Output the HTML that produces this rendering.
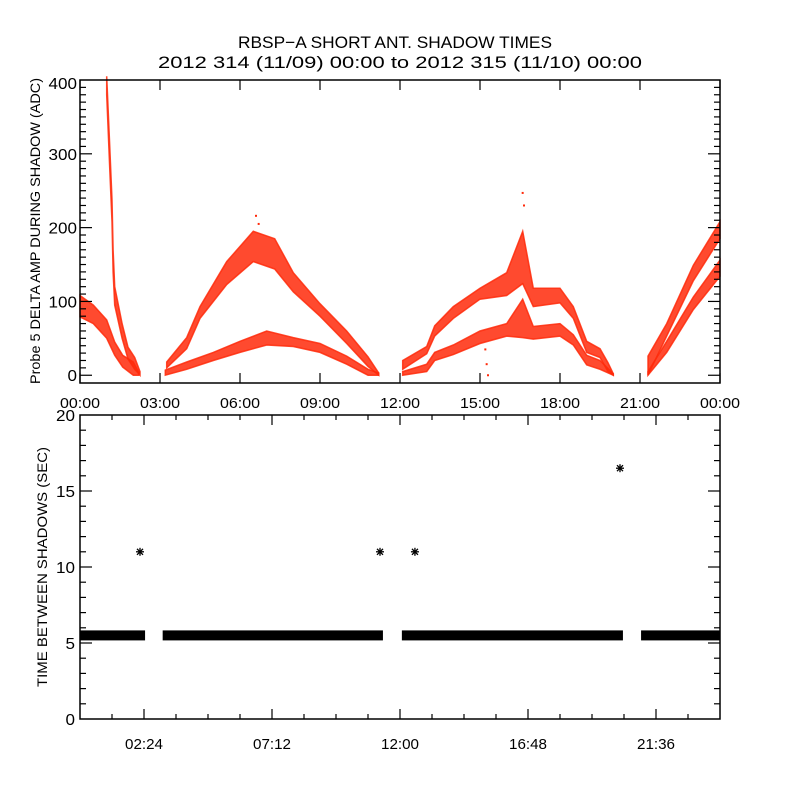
<!DOCTYPE html>
<html><head><meta charset="utf-8"><style>
html,body{margin:0;padding:0;background:#fff;}
svg{display:block;font-family:"Liberation Sans",sans-serif;}
</style></head><body>
<svg id="c" width="800" height="800" viewBox="0 0 800 800">
<text x="395" y="48" text-anchor="middle" font-size="17" textLength="314" lengthAdjust="spacingAndGlyphs">RBSP−A SHORT ANT. SHADOW TIMES</text>
<text x="400" y="68" text-anchor="middle" font-size="17" textLength="484" lengthAdjust="spacingAndGlyphs">2012 314 (11/09) 00:00 to 2012 315 (11/10) 00:00</text>
<text transform="translate(40,231) rotate(-90)" text-anchor="middle" font-size="14" textLength="306" lengthAdjust="spacingAndGlyphs">Probe 5 DELTA AMP DURING SHADOW (ADC)</text>
<text transform="translate(47,567) rotate(-90)" text-anchor="middle" font-size="14" textLength="240" lengthAdjust="spacingAndGlyphs">TIME BETWEEN SHADOWS (SEC)</text>
<g id="topPanel"></g>
<g id="botPanel"></g>
</svg>
<script>
// ---- top panel data (hours, ADC) ----
const band1T=[0,0.5,1.0,1.3,1.6,2.0,2.2];
const band1Lo=[79,70,50,27,11,0,0];
const band1Hi=[108,95,75,45,27,18,4];
const spikeT=[1.0,1.12,1.2,1.24,1.3,1.58,1.8,2.05,2.25];
const spikeLo=[380,275,208,140,95,50,22,8,0];
const spikeHi=[405,305,238,170,120,70,38,24,5];
const band2T=[3.25,4.0,4.5,5.5,6.5,7.3,8.0,9.0,10.0,10.8,11.2];
const band2Lo=[10,36,77,123,154,144,113,80,43,12,0];
const band2Hi=[18,51,93,154,195,185,139,97,60,25,3];
const band3T=[3.2,4.0,5.0,6.0,7.0,8.0,9.0,10.0,10.8,11.2];
const band3Lo=[0,8,20,31,41,39,31,15,0,0];
const band3Hi=[7,18,31,46,60,51,43,26,8,3];
const band4T=[12.1,13.0,13.3,14,15,16,16.6,17,18,18.5,19,19.5,19.8,20];
const band4Lo=[8,29,53,77,103,108,124,93,98,77,31,24,5,0];
const band4Hi=[20,39,67,93,118,139,195,118,118,93,46,36,17,2];
const band5T=[12.1,13.0,13.3,14,15,16,16.6,17,18,18.5,19,19.5,20];
const band5Lo=[0,5,20,28,43,53,51,49,53,41,14,8,0];
const band5Hi=[5,15,31,41,60,70,103,66,70,55,27,20,2];
const band6T=[21.3,22,23,24];
const band6Lo=[0,53,128,185];
const band6Hi=[26,70,149,208];
const band7T=[21.3,22,23,24];
const band7Lo=[0,31,89,134];
const band7Hi=[5,46,106,156];
const extraT=[6.6,6.7,16.6,16.65,15.2,15.25,15.3];
const extraV=[216,205,247,230,35,15,0];
const topXTicks=["00:00","03:00","06:00","09:00","12:00","15:00","18:00","21:00","00:00"];
const topYTicks=[0,100,200,300,400];
// ---- bottom panel data ----
const segStart=[0,3.1,12.07,21.04];
const segEnd=[2.44,11.36,20.36,24];
const segValue=[5.5,5.5,5.5,5.5];
const outT=[2.25,11.25,12.56,20.25];
const outV=[11,11,11,16.5];
const botXTicks=["02:24","07:12","12:00","16:48","21:36"];
const botXTickT=[2.4,7.2,12,16.8,21.6];
const botYTicks=[0,5,10,15,20];

const NS="http://www.w3.org/2000/svg";
const L=80,R=720,T1=80,B1=383,T2=415,B2=719;
const yMin1=-10.5,yMax1=400;
const x=t=>L+t/24*(R-L);
const y1=v=>B1-(v-yMin1)/(yMax1-yMin1)*(B1-T1);
const y2=v=>B2-v/20*(B2-T2);
function mk(tag,attrs,parent){const e=document.createElementNS(NS,tag);for(const k in attrs)e.setAttribute(k,attrs[k]);parent.appendChild(e);return e;}
const topG=document.getElementById('topPanel'),botG=document.getElementById('botPanel');

function band(ts,lo,hi,name){
  let pts=[];
  for(let i=0;i<ts.length;i++)pts.push(x(ts[i]).toFixed(1)+","+y1(hi[i]).toFixed(1));
  for(let i=ts.length-1;i>=0;i--)pts.push(x(ts[i]).toFixed(1)+","+y1(lo[i]).toFixed(1));
  const p=mk('polygon',{points:pts.join(' '),fill:'#ff2a0a','fill-opacity':'0.85',stroke:'#ff2a0a','stroke-width':1.5,'stroke-opacity':'0.85'},topG);
  
  
}
band(band1T,band1Lo,band1Hi,'band-early-descent');
band(spikeT,spikeLo,spikeHi,'band-early-spike');
band(band2T,band2Lo,band2Hi,'band-orbit2-upper');
band(band3T,band3Lo,band3Hi,'band-orbit2-lower');
band(band4T,band4Lo,band4Hi,'band-orbit3-upper');
band(band5T,band5Lo,band5Hi,'band-orbit3-lower');
band(band6T,band6Lo,band6Hi,'band-orbit4-upper');
band(band7T,band7Lo,band7Hi,'band-orbit4-lower');
for(let i=0;i<extraT.length;i++){
  const r=mk('rect',{x:x(extraT[i])-1,y:y1(extraV[i])-1,width:2,height:2,fill:'#ff2a0a'},topG);
  
  
}
const f1=mk('rect',{x:L,y:T1,width:R-L,height:B1-T1,fill:'none',stroke:'#000','stroke-width':1.5},topG);


for(let i=0;i<topXTicks.length;i++){
  const xx=x(i*3);
  mk('line',{x1:xx,y1:B1,x2:xx,y2:B1-10,stroke:'#000','stroke-width':1.2},topG);
  mk('line',{x1:xx,y1:T1,x2:xx,y2:T1+10,stroke:'#000','stroke-width':1.2},topG);
  const tx=mk('text',{x:xx,y:B1+25,'text-anchor':'middle','font-size':15,textLength:40,lengthAdjust:'spacingAndGlyphs'},topG);
  tx.textContent=topXTicks[i];
  
  
}
for(let v=0;v<=390;v+=10){
  const yy=y1(v),len=(v%100===0)?12:6;
  mk('line',{x1:L,y1:yy,x2:L+len,y2:yy,stroke:'#000','stroke-width':1.2},topG);
  mk('line',{x1:R,y1:yy,x2:R-len,y2:yy,stroke:'#000','stroke-width':1.2},topG);
}
for(const v of topYTicks){
  const s=String(v);
  const tx=mk('text',{x:L-3,y:Math.max(y1(v)+6,T1+9),'text-anchor':'end','font-size':16,textLength:s.length*9.5,lengthAdjust:'spacingAndGlyphs'},topG);
  tx.textContent=s;
  
  
}
for(let i=0;i<segStart.length;i++){
  const r=mk('rect',{x:x(segStart[i]),y:y2(segValue[i])-5,width:x(segEnd[i])-x(segStart[i]),height:10,fill:'#000'},botG);
  
  
}
for(let i=0;i<outT.length;i++){
  const cx=x(outT[i]),cy=y2(outV[i]);
  const g=mk('g',{stroke:'#000','stroke-width':1.3},botG);
  
  
  mk('line',{x1:cx-4,y1:cy,x2:cx+4,y2:cy},g);
  mk('line',{x1:cx,y1:cy-4,x2:cx,y2:cy+4},g);
  mk('line',{x1:cx-3,y1:cy-3,x2:cx+3,y2:cy+3},g);
  mk('line',{x1:cx-3,y1:cy+3,x2:cx+3,y2:cy-3},g);
}
const f2=mk('rect',{x:L,y:T2,width:R-L,height:B2-T2,fill:'none',stroke:'#000','stroke-width':1.5},botG);


for(let k=1;k<20;k++){
  const xx=x(k*1.2),major=(k%4===2);
  const len=major?10:5;
  mk('line',{x1:xx,y1:B2,x2:xx,y2:B2-len,stroke:'#000','stroke-width':1.2},botG);
  mk('line',{x1:xx,y1:T2,x2:xx,y2:T2+len,stroke:'#000','stroke-width':1.2},botG);
}
for(let i=0;i<botXTicks.length;i++){
  const tx=mk('text',{x:x(botXTickT[i]),y:B2+30,'text-anchor':'middle','font-size':15,textLength:38,lengthAdjust:'spacingAndGlyphs'},botG);
  tx.textContent=botXTicks[i];
  
  
}
for(let v=1;v<20;v++){
  const yy=y2(v),len=(v%5===0)?12:6;
  mk('line',{x1:L,y1:yy,x2:L+len,y2:yy,stroke:'#000','stroke-width':1.2},botG);
  mk('line',{x1:R,y1:yy,x2:R-len,y2:yy,stroke:'#000','stroke-width':1.2},botG);
}
for(const v of botYTicks){
  const s=String(v);
  const tx=mk('text',{x:L-5,y:y2(v)+6,'text-anchor':'end','font-size':16,textLength:s.length*9.5,lengthAdjust:'spacingAndGlyphs'},botG);
  tx.textContent=s;
  
  
}
</script>
</body></html>
